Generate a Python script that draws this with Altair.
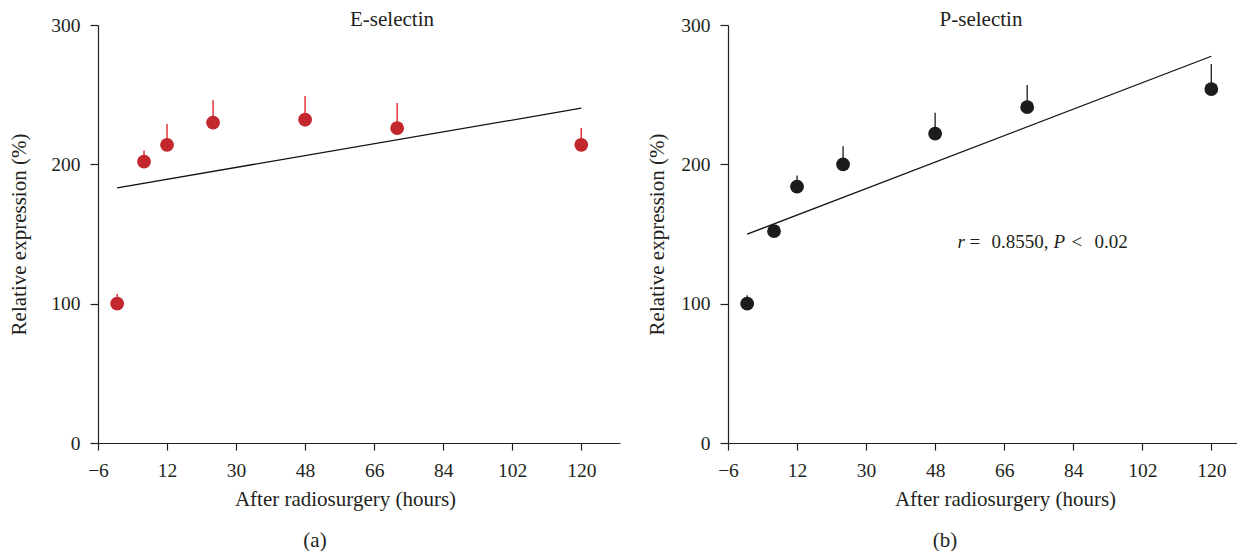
import altair as alt
import pandas as pd

# ---- data ----
hours = [-1, 6, 12, 24, 48, 72, 120]
e_mean = [100, 202, 214, 230, 232, 226, 214]
e_sem = [7, 8, 15, 16, 17, 18, 12]
p_mean = [100, 152, 184, 200, 222, 241, 254]
p_sem = [6, 2, 8, 13, 15, 16, 18]
x_ticks = [-6, 12, 30, 48, 66, 84, 102, 120]
y_ticks = [0, 100, 200, 300]

FONT = "Liberation Serif"
INK = "#231f20"
H = 418


def panel(mean, sem, pt_color, err_color, name, sub, width, xmax,
          ytitle_x, xtitle_x, name_x):
    df = pd.DataFrame({"hours": hours, "mean": mean, "sem": sem})
    base = alt.Chart(df)
    xs = alt.Scale(domain=[-6, xmax], nice=False, zero=False)
    ys = alt.Scale(domain=[0, 300], nice=False, zero=False)
    x = alt.X("hours:Q", scale=xs,
              axis=alt.Axis(values=x_ticks, title="After radiosurgery (hours)",
                            titleX=xtitle_x, titleY=62, titleAlign="center",
                            titleBaseline="alphabetic", labelBaseline="alphabetic",
                            labelPadding=26, tickSize=7, labelFlush=False))
    y = alt.Y("mean:Q", scale=ys,
              axis=alt.Axis(values=y_ticks, title="Relative expression (%)",
                            titleX=ytitle_x, titleY=H / 2, titleAngle=270,
                            titleAlign="center", titleBaseline="alphabetic",
                            labelPadding=10, tickSize=8))
    err = base.transform_calculate(upper="datum.mean + datum.sem").mark_rule(
        color=err_color, strokeWidth=1.4).encode(x=x, y=y, y2="upper:Q")
    pts = base.mark_point(filled=True, size=190, opacity=1,
                          color=pt_color).encode(x=x, y=y)
    fit = base.transform_regression("hours", "mean").mark_line(
        color="#111111", strokeWidth=1.3).encode(x=x, y=y)
    ttl = alt.Chart(pd.DataFrame({"t": [name]})).mark_text(
        font=FONT, fontSize=21, color=INK, baseline="alphabetic",
        align="center").encode(x=alt.value(name_x), y=alt.value(1), text="t:N")
    lab = alt.Chart(pd.DataFrame({"t": [sub]})).mark_text(
        font=FONT, fontSize=21, color=INK, baseline="alphabetic",
        align="center").encode(x=alt.value(217), y=alt.value(H + 104), text="t:N")
    return alt.layer(fit, err, pts, ttl, lab).properties(width=width, height=H)


left = panel(e_mean, e_sem, "#c1272d", "#e3262b", "E-selectin", "(a)",
             522, 130.1, -73, 247, 294)

right = panel(p_mean, p_sem, "#1d1b1c", "#2a2a2a", "P-selectin", "(b)",
              509, 126.7, -65, 277, 253)

# annotation in panel (b), mixed italic/roman pieces
ann_pieces = [("r", "italic", 0), ("=", "normal", 12), ("0.8550,", "normal", 34),
              ("P", "italic", 96), ("<", "normal", 114), ("0.02", "normal", 137)]
ann_layers = []
for txt, style, off in ann_pieces:
    ann_layers.append(
        alt.Chart(pd.DataFrame({"hx": [53.8], "vy": [140], "t": [txt]})).mark_text(
            font=FONT, fontSize=19, color=INK, fontStyle=style, align="left",
            baseline="alphabetic", dx=off).encode(
            x=alt.X("hx:Q", scale=alt.Scale(domain=[-6, 126.7], nice=False, zero=False)),
            y=alt.Y("vy:Q", scale=alt.Scale(domain=[0, 300], nice=False, zero=False)),
            text="t:N"))

right = alt.layer(right, *ann_layers)

chart = alt.hconcat(left, right, spacing=26).properties(
    padding={"left": 0, "top": 1, "right": 0, "bottom": 0}
).configure_view(stroke=None).configure_axis(
    grid=False, domainColor=INK, tickColor=INK, domainWidth=1.2, tickWidth=1.2,
    labelFont=FONT, labelFontSize=19.5, labelColor=INK,
    titleFont=FONT, titleFontSize=21, titleColor=INK, titleFontWeight="normal"
)

chart.save("out.html", embed_options={"renderer": "svg", "actions": False})
